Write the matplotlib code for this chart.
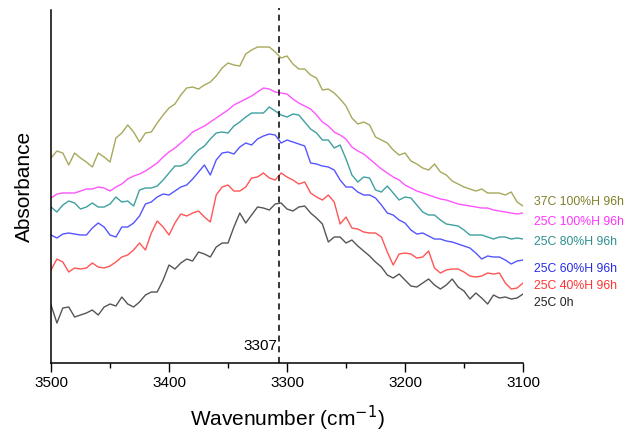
import numpy as np
import matplotlib
matplotlib.use("Agg")
import matplotlib.pyplot as plt

plt.rcParams['font.family'] = ['Liberation Sans', 'DejaVu Sans']

# Wavenumber grid (cm-1), 5 cm-1 steps
wavenumber = np.arange(3500, 3099, -5)

# Absorbance traces (offset, arbitrary units)
abs_37c_100h = [
    0.205, 0.212, 0.210, 0.198, 0.210, 0.205, 0.201, 0.196, 0.210, 0.206,
    0.201, 0.225, 0.230, 0.238, 0.231, 0.221, 0.230, 0.231, 0.240, 0.248,
    0.255, 0.259, 0.268, 0.275, 0.276, 0.274, 0.278, 0.281, 0.287, 0.295,
    0.300, 0.298, 0.297, 0.309, 0.313, 0.316, 0.316, 0.316, 0.311, 0.305,
    0.307, 0.299, 0.294, 0.294, 0.288, 0.285, 0.273, 0.274, 0.270, 0.264,
    0.257, 0.245, 0.239, 0.241, 0.238, 0.226, 0.223, 0.220, 0.213, 0.208,
    0.210, 0.202, 0.199, 0.195, 0.193, 0.199, 0.191, 0.188, 0.182, 0.179,
    0.176, 0.174, 0.172, 0.174, 0.170, 0.170, 0.170, 0.168, 0.171, 0.161,
    0.157]
abs_25c_100h = [
    0.165, 0.169, 0.170, 0.170, 0.170, 0.172, 0.174, 0.174, 0.176, 0.175,
    0.172, 0.176, 0.179, 0.184, 0.187, 0.189, 0.192, 0.196, 0.200, 0.206,
    0.211, 0.215, 0.220, 0.225, 0.231, 0.234, 0.237, 0.241, 0.245, 0.249,
    0.253, 0.258, 0.261, 0.264, 0.267, 0.271, 0.275, 0.274, 0.271, 0.270,
    0.269, 0.264, 0.260, 0.257, 0.254, 0.248, 0.241, 0.237, 0.231, 0.228,
    0.224, 0.216, 0.212, 0.209, 0.204, 0.199, 0.194, 0.190, 0.186, 0.183,
    0.178, 0.175, 0.172, 0.170, 0.168, 0.166, 0.164, 0.163, 0.161, 0.159,
    0.158, 0.157, 0.156, 0.155, 0.155, 0.153, 0.152, 0.151, 0.150, 0.149,
    0.150]
abs_25c_80h = [
    0.156, 0.151, 0.158, 0.162, 0.160, 0.154, 0.156, 0.160, 0.156, 0.156,
    0.159, 0.166, 0.161, 0.162, 0.157, 0.173, 0.175, 0.175, 0.177, 0.183,
    0.190, 0.197, 0.197, 0.200, 0.207, 0.213, 0.217, 0.224, 0.230, 0.231,
    0.230, 0.237, 0.241, 0.246, 0.250, 0.250, 0.250, 0.256, 0.252, 0.248,
    0.246, 0.249, 0.248, 0.241, 0.234, 0.230, 0.223, 0.223, 0.215, 0.218,
    0.204, 0.188, 0.181, 0.186, 0.185, 0.173, 0.171, 0.177, 0.170, 0.163,
    0.166, 0.165, 0.158, 0.151, 0.148, 0.148, 0.143, 0.139, 0.138, 0.137,
    0.133, 0.128, 0.128, 0.128, 0.126, 0.124, 0.126, 0.126, 0.124, 0.125,
    0.124]
abs_25c_60h = [
    0.128, 0.125, 0.129, 0.130, 0.129, 0.128, 0.128, 0.135, 0.140, 0.136,
    0.128, 0.126, 0.136, 0.136, 0.140, 0.147, 0.159, 0.161, 0.166, 0.169,
    0.168, 0.172, 0.176, 0.178, 0.184, 0.191, 0.198, 0.188, 0.203, 0.210,
    0.211, 0.209, 0.216, 0.220, 0.218, 0.224, 0.227, 0.229, 0.228, 0.220,
    0.223, 0.221, 0.219, 0.217, 0.200, 0.199, 0.197, 0.196, 0.193, 0.183,
    0.176, 0.176, 0.171, 0.168, 0.168, 0.165, 0.158, 0.150, 0.148, 0.143,
    0.140, 0.133, 0.129, 0.130, 0.127, 0.124, 0.124, 0.122, 0.121, 0.119,
    0.117, 0.115, 0.110, 0.104, 0.107, 0.106, 0.106, 0.103, 0.099, 0.102,
    0.103]
abs_25c_40h = [
    0.093, 0.104, 0.101, 0.091, 0.095, 0.094, 0.095, 0.100, 0.096, 0.095,
    0.097, 0.101, 0.106, 0.108, 0.113, 0.120, 0.113, 0.130, 0.142, 0.136,
    0.128, 0.140, 0.149, 0.147, 0.150, 0.152, 0.146, 0.141, 0.168, 0.176,
    0.178, 0.172, 0.172, 0.176, 0.185, 0.186, 0.190, 0.185, 0.183, 0.190,
    0.186, 0.183, 0.179, 0.181, 0.170, 0.166, 0.163, 0.168, 0.161, 0.139,
    0.146, 0.135, 0.134, 0.131, 0.130, 0.130, 0.126, 0.111, 0.098, 0.109,
    0.110, 0.109, 0.105, 0.106, 0.112, 0.095, 0.090, 0.093, 0.094, 0.094,
    0.091, 0.087, 0.086, 0.087, 0.090, 0.089, 0.090, 0.080, 0.074, 0.075,
    0.080]
abs_25c_0h = [
    0.058, 0.040, 0.055, 0.056, 0.046, 0.048, 0.050, 0.053, 0.048, 0.056,
    0.059, 0.057, 0.066, 0.059, 0.056, 0.061, 0.068, 0.071, 0.071, 0.083,
    0.098, 0.094, 0.100, 0.104, 0.102, 0.111, 0.109, 0.106, 0.116, 0.120,
    0.120, 0.136, 0.150, 0.140, 0.148, 0.156, 0.155, 0.153, 0.159, 0.160,
    0.154, 0.152, 0.156, 0.157, 0.150, 0.145, 0.139, 0.121, 0.126, 0.126,
    0.120, 0.123, 0.117, 0.112, 0.107, 0.101, 0.096, 0.088, 0.085, 0.089,
    0.083, 0.077, 0.076, 0.080, 0.084, 0.078, 0.074, 0.078, 0.084, 0.076,
    0.072, 0.064, 0.070, 0.065, 0.059, 0.068, 0.065, 0.066, 0.064, 0.065,
    0.069]

series = [abs_37c_100h, abs_25c_100h, abs_25c_80h, abs_25c_60h, abs_25c_40h, abs_25c_0h]
labels = ["37C 100%H 96h", "25C 100%H 96h", "25C 80%H 96h",
          "25C 60%H 96h", "25C 40%H 96h", "25C 0h"]
label_y = [0.161, 0.141, 0.121, 0.094, 0.077, 0.060]
line_colors = ["#a8a85c", "#ff55ff", "#3fa0a0", "#5555ff", "#ff5555", "#555555"]
text_colors = ["#80802a", "#ff33ff", "#2e8f8f", "#2a2ae6", "#ff3333", "#222222"]

peak = 3307

fig = plt.figure(figsize=(6.29, 4.37), dpi=100)
ax = fig.add_axes([0.0811, 0.1693, 0.7504, 0.8078])

for y, c in zip(series, line_colors):
    ax.plot(wavenumber, y, color=c, linewidth=1.0)

# labels at the right end of each trace
for lab, ly, c in zip(labels, label_y, text_colors):
    ax.text(3091, ly, lab, color=c, fontsize=8.8, va="center", ha="left")

# dashed marker at the peak position
ax.plot([peak, peak], [0, 0.355], color="black", linestyle=(0, (4, 3)),
        linewidth=1.1, clip_on=False)
ax.text(peak + 1.5, 0.0175, str(peak), fontsize=11, ha="right", va="center")

ax.set_xlim(3500, 3100)
ax.set_ylim(0, 0.353)
ax.set_xticks([3500, 3400, 3300, 3200, 3100])
ax.set_xticks([3450, 3350, 3250, 3150], minor=True)
ax.set_yticks([])
ax.tick_params(axis="x", which="major", direction="out", length=6.5, width=1, labelsize=11, pad=2.5)
ax.tick_params(axis="x", which="minor", direction="out", length=3.5, width=1)
for s in ["top", "right"]:
    ax.spines[s].set_visible(False)
ax.spines["left"].set_linewidth(1.1)
ax.spines["bottom"].set_linewidth(1.1)

ax.set_xlabel("Wavenumber (cm$^{-1}$)", fontsize=15, labelpad=10)
ax.set_ylabel("Absorbance", fontsize=15, labelpad=12)

plt.savefig("out.png", dpi=100)
